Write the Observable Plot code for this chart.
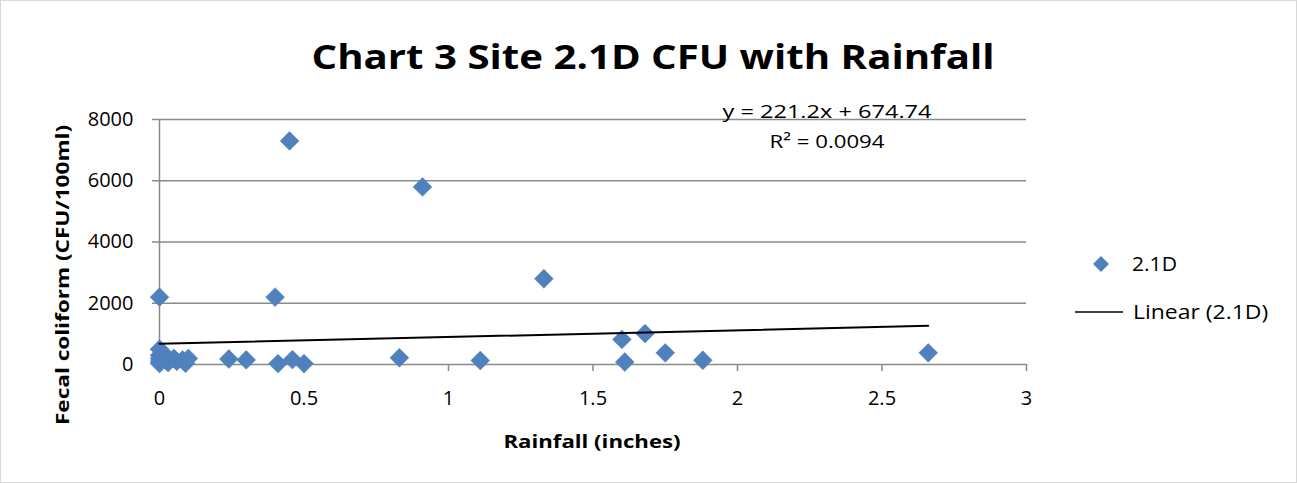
<!DOCTYPE html>
<html>
<head>
<meta charset="utf-8">
<script src="https://cdn.jsdelivr.net/npm/d3@7"></script>
<script src="https://cdn.jsdelivr.net/npm/@observablehq/plot@0.6"></script>
<style>
  html, body { margin: 0; padding: 0; background: #fff; }
  #chart svg { display: block; }
</style>
</head>
<body>
<div id="chart"></div>
<script>
// Data
const rainfall = [0, 0, 0, 0, 0, 0, 0.01, 0.02, 0.03, 0.05, 0.06, 0.08, 0.09, 0.10,
  0.24, 0.30, 0.40, 0.41, 0.45, 0.46, 0.50, 0.83, 0.91, 1.11, 1.33,
  1.60, 1.61, 1.68, 1.75, 1.88, 2.66];
const fecal = [2200, 500, 300, 200, 100, 30, 400, 150, 60, 200, 100, 150, 40, 200,
  180, 150, 2200, 30, 7300, 160, 30, 220, 5800, 130, 2800,
  820, 80, 1010, 380, 140, 380];
const seriesName = "2.1D";
const trendName = "Linear (2.1D)";
const slope = 221.2;
const intercept = 674.74;
const r2Text = "R² = 0.0094";
const eqText = "y = 221.2x + 674.74";
const xTicks = [0, 0.5, 1, 1.5, 2, 2.5, 3];
const yTicks = [0, 2000, 4000, 6000, 8000];
const titleText = "Chart 3 Site 2.1D CFU with Rainfall";
const xLabel = "Rainfall (inches)";
const yLabel = "Fecal coliform (CFU/100ml)";

const points = rainfall.map((x, i) => ({x, y: fecal[i]}));
const xMin = d3.min(rainfall), xMax = d3.max(rainfall);
const trend = [xMin, xMax].map(x => ({x, y: slope * x + intercept}));

const FONT = "'Open Sans', sans-serif";
const BLUE = "#4f81bd";
const GRID = "#8a8a8a";
const W = 1297, H = 483;

const plot = Plot.plot({
  width: W,
  height: H,
  marginLeft: 159,
  marginRight: 271,
  marginTop: 119,
  marginBottom: 119,
  style: {fontFamily: FONT, fontSize: "20px", color: "#000", background: "#fff", overflow: "visible"},
  x: {domain: [0, 3], ticks: xTicks, tickFormat: d => String(d)},
  y: {domain: [0, 8000], ticks: yTicks, tickFormat: d => String(d)},
  marks: [
    Plot.ruleY(yTicks, {stroke: GRID, strokeWidth: 1.5}),
    Plot.ruleX([0], {stroke: GRID, strokeWidth: 1.5}),
    Plot.axisX({ticks: xTicks, tickSize: 7, tickPadding: 19, stroke: GRID, strokeWidth: 1.5, label: null, tickFormat: d => String(d), fill: "#000"}),
    Plot.axisY({ticks: yTicks, tickSize: 7, tickPadding: 19, stroke: GRID, strokeWidth: 1.5, label: null, tickFormat: d => String(d), fill: "#000"}),
    Plot.dot(points, {x: "x", y: "y", symbol: "diamond2", r: 8.5, fill: BLUE, stroke: BLUE, strokeWidth: 0.5}),
    Plot.line(trend, {x: "x", y: "y", stroke: "#000", strokeWidth: 2})
  ]
});

const svg = d3.select(plot);
// outer border
svg.append("rect").attr("x", 0.5).attr("y", 0.5).attr("width", W - 1).attr("height", H - 1)
  .attr("fill", "none").attr("stroke", "#d9d9d9");

const t = svg.append("g").attr("font-family", FONT).attr("fill", "#000");
function label(str, x, y, size, sx, opts = {}) {
  const rot = opts.rotate ? ` rotate(${opts.rotate})` : "";
  return t.append("text")
    .attr("transform", `translate(${x},${y})${rot} scale(${sx},1)`)
    .attr("text-anchor", opts.anchor || "middle")
    .attr("font-size", size)
    .attr("font-weight", opts.bold ? "bold" : "normal")
    .attr("dy", opts.dy || null)
    .text(str);
}
label(titleText, 653, 69, 33.5, 1.2, {bold: true});
label(xLabel, 592, 448, 18.5, 1.2, {bold: true});
label(yLabel, 69, 275, 18.5, 1.22, {bold: true, rotate: -90});
label(eqText, 827, 118, 19, 1.24);
label(r2Text, 827, 148, 19, 1.17);

// legend
t.append("path").attr("d", d3.symbol(d3.symbolDiamond2, 150)()).attr("transform", "translate(1101,264)")
  .attr("fill", BLUE).attr("stroke", BLUE).attr("stroke-width", 0.5);
label(seriesName, 1132, 264, 20.5, 1.03, {anchor: "start", dy: "0.36em"});
t.append("line").attr("x1", 1075).attr("x2", 1123).attr("y1", 312).attr("y2", 312)
  .attr("stroke", "#000").attr("stroke-width", 1.5);
label(trendName, 1133, 312, 20.5, 1.12, {anchor: "start", dy: "0.36em"});

document.getElementById("chart").appendChild(plot);
</script>
</body>
</html>
